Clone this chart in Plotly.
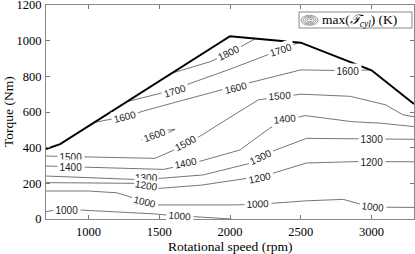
import plotly.graph_objects as go

# ---------------- data ----------------
boundary_rpm = [700, 800, 2000, 2500, 3000, 3300]
boundary_nm = [392, 420, 1025, 989, 834, 645]

c1800_rpm = [1590, 1860, 1990, 2180]
c1800_nm = [818, 882, 930, 1011]

c1700_rpm = [1265, 1500, 1700, 2000, 2280, 2488]
c1700_nm = [657, 703, 755, 840, 925, 990]

c1600_rpm = [1040, 1250, 1500, 1860, 2000, 2500, 2830, 2990]
c1600_nm = [541, 574, 630, 705, 737, 836, 832, 836]

c1600_loop_rpm = [1376, 1423, 1612, 1560, 1400, 1376]
c1600_loop_nm = [447, 424, 503, 498, 462, 447]

c1500_rpm = [700, 1000, 1470, 1600, 1800, 2000, 2200, 2500, 2850, 3100, 3220, 3300]
c1500_nm = [353, 349, 340, 385, 470, 570, 668, 700, 688, 640, 585, 573]

c1400_rpm = [700, 1100, 1470, 1530, 1600, 1680, 1780, 2070, 2280, 2400, 2530, 2860, 3070, 3300]
c1400_nm = [297, 288, 280, 278, 290, 310, 322, 387, 509, 555, 580, 546, 537, 518]

c1300_rpm = [700, 1320, 1510, 1810, 2140, 2300, 2540, 2900, 3300]
c1300_nm = [241, 222, 228, 247, 312, 380, 452, 450, 447]

c1200_rpm = [700, 1320, 1410, 1500, 1800, 2120, 2300, 2540, 2900, 3300]
c1200_nm = [204, 200, 188, 172, 190, 228, 256, 314, 322, 321]

c1000a_rpm = [700, 1000, 1200, 1290, 1400, 1480, 2050, 2200, 2300, 2540, 2800, 2900, 3000, 3100, 3300]
c1000a_nm = [157, 157, 147, 125, 97, 79, 79, 82, 88, 102, 110, 88, 70, 66, 65]

c1000b_rpm = [700, 760, 950, 1200, 1480, 1580, 1650, 1750, 2010]
c1000b_nm = [41, 50, 50, 41, 28, 20, 16, 13, 0]

label_level = [1800, 1700, 1700, 1600, 1600, 1600, 1600, 1500, 1500, 1500,
               1400, 1400, 1400, 1300, 1300, 1300, 1200, 1200, 1200,
               1000, 1000, 1000, 1000, 1000]
label_rpm = [1990, 1610, 2360, 1255, 2040, 2835, 1470, 880, 1690, 2350,
             880, 1690, 2390, 1410, 2220, 3000, 1410, 2210, 3000,
             1400, 2200, 3010, 850, 1650]
label_nm = [930, 720, 948, 574, 737, 832, 470, 350, 424, 690,
            290, 312, 560, 226, 345, 448, 188, 232, 321,
            97, 82, 68, 48, 16]
label_angle = [-26, -17, -18, -14, -14, 0, -20, 0, -28, -4,
               0, -12, -6, 0, -25, 0, 10, -12, 0,
               14, -3, 6, 0, 5]

x_ticks = [1000, 1500, 2000, 2500, 3000]
y_ticks = [0, 200, 400, 600, 800, 1000, 1200]

# ---------------- figure ----------------
fig = go.Figure()

contours = [
    (c1800_rpm, c1800_nm), (c1700_rpm, c1700_nm), (c1600_rpm, c1600_nm),
    (c1600_loop_rpm, c1600_loop_nm), (c1500_rpm, c1500_nm), (c1400_rpm, c1400_nm),
    (c1300_rpm, c1300_nm), (c1200_rpm, c1200_nm), (c1000a_rpm, c1000a_nm),
    (c1000b_rpm, c1000b_nm),
]
for xs, ys in contours:
    fig.add_trace(go.Scatter(x=xs, y=ys, mode="lines",
                             line=dict(color="#3a3a3a", width=0.7),
                             hoverinfo="skip", showlegend=False))

fig.add_trace(go.Scatter(x=boundary_rpm, y=boundary_nm, mode="lines",
                         line=dict(color="black", width=2),
                         hoverinfo="skip", showlegend=False))

for lv, xr, yn, ang in zip(label_level, label_rpm, label_nm, label_angle):
    tight = (xr == 1410)
    fig.add_annotation(x=xr, y=yn, text=str(lv), showarrow=False,
                       textangle=ang, bgcolor="white",
                       borderpad=0 if tight else 1.5,
                       font=dict(family="Liberation Sans", size=10, color="#222222"))

# layout geometry (pixels)
W, H = 415, 254
L, R, T, B = 46, 414, 5, 219
def px(x):
    return (x - L) / (R - L)
def py(y):
    return (B - y) / (B - T)

serif = dict(family="Liberation Serif", size=12.5, color="black")
serif_big = dict(family="Liberation Serif", size=13.5, color="black")

# legend box
fig.add_shape(type="rect", xref="paper", yref="paper",
              x0=px(299), x1=px(412), y0=py(28), y1=py(12),
              line=dict(color="#888888", width=1), fillcolor="white", layer="above")
for w, h in [(8.5, 5), (6.5, 3.8), (4.5, 2.6), (2.5, 1.4)]:
    fig.add_shape(type="circle", xref="paper", yref="paper",
                  x0=px(309.5 - w), x1=px(309.5 + w), y0=py(20.3 + h), y1=py(20.3 - h),
                  line=dict(color="#555555", width=0.6), layer="above")
fig.add_annotation(xref="paper", yref="paper", x=px(320), y=py(20.3),
                   xanchor="left", yanchor="middle", showarrow=False,
                   text="max(<i>𝒯</i><sub><i>cyl</i></sub>) (K)",
                   font=dict(family="Liberation Serif", size=13.5, color="black"))

# axis titles
fig.add_annotation(xref="paper", yref="paper", x=px(230), y=py(246),
                   xanchor="center", yanchor="middle", showarrow=False,
                   text="Rotational speed (rpm)", font=serif_big)
fig.add_annotation(xref="paper", yref="paper", x=px(8), y=py(112),
                   xanchor="center", yanchor="middle", showarrow=False,
                   textangle=-90, text="Torque (Nm)", font=serif_big)

axis_common = dict(showgrid=False, zeroline=False, mirror="ticks", ticks="inside",
                   ticklen=4, tickcolor="#777777", linecolor="#888888", linewidth=1,
                   showline=True, automargin=False, tickfont=serif,
                   ticklabeloverflow="allow")

fig.update_layout(
    width=W, height=H,
    margin=dict(l=L, r=W - R, t=T, b=H - B, pad=0),
    paper_bgcolor="white", plot_bgcolor="white",
    xaxis=dict(range=[700, 3300], tickvals=x_ticks, ticklabelstandoff=1, **axis_common),
    yaxis=dict(range=[0, 1200], tickvals=y_ticks, ticklabelstandoff=1, **axis_common),
)

fig.write_html("out.html", config={"displayModeBar": False},
               post_script="document.body.style.margin='0';document.body.style.overflow='hidden';")
